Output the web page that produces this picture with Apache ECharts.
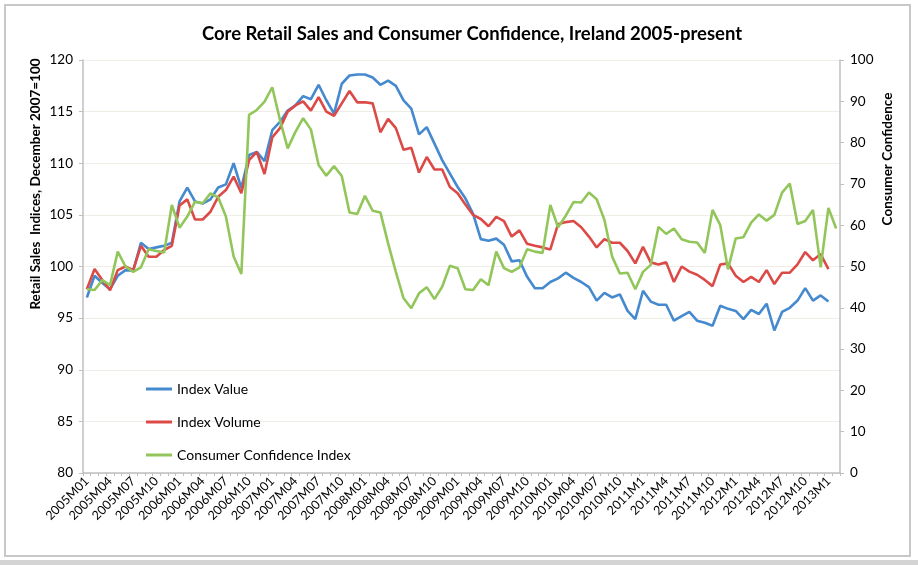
<!DOCTYPE html>
<html>
<head>
<meta charset="utf-8">
<script src="https://cdn.jsdelivr.net/npm/echarts@6/dist/echarts.min.js"></script>
<style>
  html, body { margin: 0; padding: 0; background: #fff; }
  #chart { width: 918px; height: 565px; }
</style>
</head>
<body>
<div id="chart"></div>
<script>
// months 2005M01 .. 2013M02 (from 2011 the labels drop the leading zero)
const years = [2005, 2006, 2007, 2008, 2009, 2010, 2011, 2012, 2013]
const categories = []
years.forEach(y => {
  for (let m = 1; m <= 12; m++) {
    if (y === 2013 && m > 2) break
    const mm = y < 2011 && m < 10 ? '0' + m : '' + m
    categories.push(y + 'M' + mm)
  }
})

const indexValue = [
  97.0, 99.1, 98.4, 97.8, 99.1, 99.65, 99.6, 102.3, 101.7, 101.85, 102.0, 102.3,
  106.3, 107.65, 106.3, 106.1, 106.5, 107.65, 107.95, 110.0, 107.6, 110.8, 111.1, 110.2,
  113.2, 114.0, 115.1, 115.6, 116.5, 116.2, 117.6, 116.1, 114.8, 117.7, 118.5, 118.6,
  118.6, 118.3, 117.6, 118.0, 117.5, 116.1, 115.3, 112.8, 113.5, 111.9, 110.3, 109.0,
  107.7, 106.6, 105.1, 102.65, 102.5, 102.7, 102.1, 100.5, 100.6, 99.0, 97.9, 97.9,
  98.5, 98.85, 99.4, 98.9, 98.5, 98.0, 96.7, 97.45, 97.0, 97.3, 95.7, 94.9,
  97.65, 96.6, 96.3, 96.3, 94.75, 95.2, 95.6, 94.75, 94.55, 94.26, 96.2, 95.9,
  95.7, 94.9, 95.8, 95.4, 96.4, 93.8, 95.6, 96.0, 96.7, 97.9, 96.7, 97.2,
  96.6
]

const indexVolume = [
  97.8, 99.75, 98.7, 97.7, 99.65, 100.0, 99.65, 102.0, 100.95, 100.95, 101.6, 102.0,
  105.9, 106.5, 104.55, 104.55, 105.3, 106.75, 107.4, 108.7, 107.1, 110.3, 111.1, 108.95,
  112.5, 113.4, 115.0, 115.6, 116.0, 115.1, 116.4, 115.0, 114.6, 115.8, 117.0, 115.9,
  115.9, 115.8, 113.0, 114.3, 113.4, 111.3, 111.5, 109.1, 110.6, 109.4, 109.4, 107.7,
  107.1, 106.0, 105.0, 104.6, 103.9, 104.8, 104.4, 102.9, 103.5, 102.2, 102.0, 101.85,
  101.65, 104.1, 104.3, 104.4, 103.8, 102.9, 101.85, 102.65, 102.3, 102.3, 101.5, 100.3,
  101.9, 100.4, 100.2, 100.4, 98.5, 100.0, 99.5, 99.2, 98.7, 98.1, 100.2, 100.3,
  99.1, 98.5, 99.0, 98.5, 99.65, 98.3, 99.4, 99.4, 100.2, 101.4, 100.6, 101.2,
  99.75
]

const confidence = [
  44.5, 44.3, 46.7, 45.5, 53.6, 50.0, 48.7, 49.8, 54.2, 53.75, 53.4, 64.9,
  59.4, 62.1, 65.7, 65.3, 67.7, 66.75, 62.1, 52.4, 48.2, 86.7, 87.9, 89.9,
  93.4, 85.5, 78.6, 82.6, 85.9, 83.2, 74.6, 72.0, 74.3, 71.9, 63.1, 62.7,
  67.1, 63.5, 63.1, 55.6, 48.7, 42.3, 39.9, 43.5, 45.0, 42.1, 45.1, 50.2,
  49.6, 44.5, 44.3, 46.9, 45.5, 53.6, 49.6, 48.7, 49.8, 54.2, 53.6, 53.3,
  64.9, 59.5, 62.3, 65.6, 65.5, 67.9, 66.3, 61.3, 52.4, 48.3, 48.5, 44.5,
  48.7, 50.4, 59.6, 57.9, 59.2, 56.6, 56.0, 55.8, 53.3, 63.7, 60.0, 49.3,
  56.8, 57.1, 60.6, 62.6, 61.1, 62.5, 67.9, 70.1, 60.3, 61.0, 63.7, 49.8,
  64.2, 59.2
]

const leftTicks = { min: 80, max: 120, step: 5 }
const rightTicks = { min: 0, max: 100, step: 10 }

const font = 'Lato, "Open Sans", sans-serif'
const axisGrey = '#bfbfbf'
const nameStyle = { fontFamily: font, fontSize: 13.5, fontWeight: 'bold', fill: '#000', align: 'center', verticalAlign: 'middle' }

const chart = echarts.init(document.getElementById('chart'))
chart.setOption({
  animation: false,
  backgroundColor: '#fff',
  textStyle: { fontFamily: font, color: '#000' },
  title: {
    text: 'Core Retail Sales and Consumer Confidence, Ireland 2005-present',
    left: 467,
    top: 20,
    textAlign: 'center',
    textStyle: { fontFamily: font, fontSize: 18.5, fontWeight: 'bold', color: '#000' }
  },
  graphic: [
    {
      type: 'rect',
      shape: { x: 5, y: 5, width: 905, height: 551 },
      style: { fill: 'none', stroke: '#c8c8c8', lineWidth: 2 },
      silent: true
    },
    {
      type: 'rect',
      shape: { x: 0, y: 560, width: 918, height: 5 },
      style: { fill: '#d4d4d4' },
      silent: true
    },
    // axis titles sit off-centre in the original, so they are placed by hand
    {
      type: 'text',
      x: 36,
      y: 184,
      rotation: Math.PI / 2,
      style: Object.assign({ text: 'Retail Sales  Indices, December 2007=100' }, nameStyle),
      silent: true
    },
    {
      type: 'text',
      x: 888,
      y: 159,
      rotation: Math.PI / 2,
      style: Object.assign({ text: 'Consumer Confidence' }, nameStyle),
      silent: true
    }
  ],
  legend: {
    orient: 'vertical',
    left: 141,
    top: 377,
    itemWidth: 26,
    itemHeight: 3,
    itemGap: 19,
    icon: 'rect',
    textStyle: { fontFamily: font, fontSize: 14, color: '#000' },
    data: ['Index Value', 'Index Volume', 'Consumer Confidence Index']
  },
  grid: { left: 83, right: 78, top: 60, bottom: 92 },
  xAxis: {
    type: 'category',
    data: categories,
    boundaryGap: true,
    axisLine: { lineStyle: { color: axisGrey, width: 1.5 } },
    axisTick: { show: true, interval: 0, length: 3, lineStyle: { color: axisGrey } },
    axisLabel: { interval: 2, rotate: 45, fontSize: 12.5, margin: 6, color: '#000' },
    splitLine: { show: false }
  },
  yAxis: [
    {
      type: 'value',
      min: leftTicks.min,
      max: leftTicks.max,
      interval: leftTicks.step,
      axisLine: { show: true, lineStyle: { color: axisGrey, width: 1.5 } },
      axisTick: { show: true, length: 4, lineStyle: { color: axisGrey } },
      axisLabel: { fontSize: 13.5, margin: 10, color: '#000' },
      splitLine: { lineStyle: { color: '#efeee6', width: 1.2 } }
    },
    {
      type: 'value',
      position: 'right',
      min: rightTicks.min,
      max: rightTicks.max,
      interval: rightTicks.step,
      axisLine: { show: true, lineStyle: { color: axisGrey, width: 1.5 } },
      axisTick: { show: true, length: 4, lineStyle: { color: axisGrey } },
      axisLabel: { fontSize: 13.5, margin: 10, color: '#000' },
      splitLine: { show: false }
    }
  ],
  series: [
    {
      name: 'Index Value',
      type: 'line',
      data: indexValue,
      yAxisIndex: 0,
      symbol: 'none',
      color: '#4589cf',
      lineStyle: { width: 2.6 }
    },
    {
      name: 'Index Volume',
      type: 'line',
      data: indexVolume,
      yAxisIndex: 0,
      symbol: 'none',
      color: '#dc4a47',
      lineStyle: { width: 2.6 }
    },
    {
      name: 'Consumer Confidence Index',
      type: 'line',
      data: confidence,
      yAxisIndex: 1,
      symbol: 'none',
      color: '#93c65a',
      lineStyle: { width: 2.6 }
    }
  ]
})
</script>
</body>
</html>
